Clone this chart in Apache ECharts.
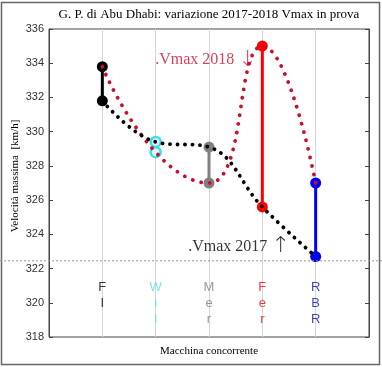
<!DOCTYPE html>
<html><head><meta charset="utf-8">
<script src="https://cdn.jsdelivr.net/npm/echarts@6/dist/echarts.min.js"></script>
<style>html,body{margin:0;padding:0;background:#fff}#c{width:382px;height:367px}</style>
</head><body><div id="c"></div>
<script>
const categories = ['FI', 'Wil', 'Mer', 'Fer', 'RBR'];
const catPos = [1, 2, 3, 4, 5];
const vmax2017 = [331.8, 329.4, 329.1, 325.6, 322.7];
const vmax2018 = [333.8, 328.8, 327.0, 335.0, 327.0];
const yTicks = [318, 320, 322, 324, 326, 328, 330, 332, 334, 336];
const refLine = 322.45;
const labelRows = [320.9, 319.95, 319.0];
const annot2018 = {x: 1.99, y: 334.2, text: '.Vmax 2018 ', arrow: '\u2193'};
const annot2017 = {x: 2.61, y: 323.3, text: '.Vmax 2017 ', arrow: '\u2191'};

const catColors = ['#000000', '#3fdbe6', '#808080', '#ff0000', '#0000ee'];
const labelColors = ['#000000', '#55dde6', '#808080', '#e01010', '#1010b0'];

const serif = '"Liberation Serif","Times New Roman",serif';
const sans = '"Liberation Sans",Arial,sans-serif';

const chart = echarts.init(document.getElementById('c'), null, {renderer: 'canvas'});

const series = [];
categories.forEach((c, i) => {
  const isWil = c === 'Wil';
  series.push({
    type: 'line', z: 3,
    data: [[catPos[i], vmax2017[i]], [catPos[i], vmax2018[i]]],
    symbol: 'circle', symbolSize: isWil ? 10 : 11,
    lineStyle: {color: catColors[i], width: isWil ? 1.5 : 3},
    itemStyle: isWil ? {color: '#d8f8fa', borderColor: catColors[i], borderWidth: 2.5}
                     : {color: catColors[i], borderWidth: 0},
    emphasis: {disabled: true}, animation: false
  });
});
series.push({
  type: 'line', z: 5, smooth: 0.5,
  data: catPos.map((x, i) => [x, vmax2018[i]]),
  symbol: 'none',
  lineStyle: {color: '#c8102e', width: 3.8, type: [0.1, 8.6], cap: 'round'},
  animation: false
});
series.push({
  type: 'line', z: 6, smooth: 0.4,
  data: catPos.map((x, i) => [x, vmax2017[i]]),
  symbol: 'none',
  lineStyle: {color: '#000000', width: 3.8, type: [0.1, 7.4], cap: 'round'},
  animation: false
});
// category labels written letter by letter
const labelData = [];
categories.forEach((c, i) => {
  c.split('').forEach((ch, k) => {
    labelData.push({value: [catPos[i], labelRows[k]], ch: ch,
      label: {color: labelColors[i]}});
  });
});
series.push({
  type: 'scatter', z: 7, symbolSize: 0, silent: true, animation: false,
  data: labelData,
  label: {show: true, position: 'inside', formatter: p => p.data.ch,
    fontFamily: sans, fontSize: 13}
});
const annots = [annot2018, annot2017];
const annotColors = ['#c8102e', '#000'];
series.push({
  type: 'scatter', z: 7, symbolSize: 0, silent: true, animation: false,
  data: annots.map((a, i) => ({value: [a.x, a.y], t: a.text, ar: a.arrow,
    label: {color: annotColors[i]}})),
  label: {show: true, position: [0, 0], align: 'left', verticalAlign: 'middle',
    formatter: p => p.data.t + '{a|' + p.data.ar + '}', fontFamily: serif, fontSize: 16,
    rich: {a: {fontSize: 22, fontFamily: '"DejaVu Sans",sans-serif', fontWeight: 'lighter'}}}
});

const option = {
  animation: false,
  backgroundColor: '#fff',
  grid: {left: 49, top: 29, width: 320, height: 308, show: true,
    borderColor: '#444', borderWidth: 1, backgroundColor: 'transparent'},
  xAxis: [{
    type: 'value', min: 0, max: 6, interval: 1,
    axisLine: {show: false}, axisTick: {show: false}, axisLabel: {show: false},
    splitLine: {show: true, lineStyle: {color: '#d6d6d6', width: 1}}
  }],
  yAxis: [{
    type: 'value', min: 318, max: 336, interval: 2, position: 'left',
    axisLine: {show: true, lineStyle: {color: '#444'}},
    axisTick: {show: true, inside: true, length: 4, lineStyle: {color: '#444'}},
    axisLabel: {color: '#333', fontFamily: sans, fontSize: 11, margin: 5},
    splitLine: {show: false}
  }, {
    type: 'value', min: 318, max: 336, interval: 2, position: 'right',
    axisLine: {show: true, lineStyle: {color: '#444'}},
    axisTick: {show: true, inside: true, length: 4, lineStyle: {color: '#444'}},
    axisLabel: {show: false}, splitLine: {show: false}
  }],
  series: series,
  graphic: [
    {type: 'rect', id: 'frame', shape: {x: 1.5, y: 2.5, width: 378, height: 362},
      style: {fill: null, stroke: '#666', lineWidth: 1.5}, silent: true, z: 0},
    {type: 'text', x: 209, y: 15, style: {text: 'G. P. di Abu Dhabi: variazione 2017-2018 Vmax in prova',
      font: '13px ' + serif, fill: '#000', textAlign: 'center', textVerticalAlign: 'middle'}},
    {type: 'text', x: 209, y: 351, style: {text: 'Macchina concorrente',
      font: '11px ' + serif, fill: '#000', textAlign: 'center', textVerticalAlign: 'middle'}},
    {type: 'text', x: 15, y: 176, rotation: Math.PI / 2, style: {text: 'Velocità massima  [km/h]',
      font: '11px ' + serif, fill: '#000', textAlign: 'center', textVerticalAlign: 'middle'}}
  ]
};
chart.setOption(option);
const py = chart.convertToPixel({gridIndex: 0}, [0, refLine])[1];
chart.setOption({graphic: [{type: 'line', id: 'ref', shape: {x1: 0, y1: py, x2: 382, y2: py},
  style: {stroke: '#999', lineWidth: 1, lineDash: [2, 2]}, silent: true, z: 10}]});
</script></body></html>
